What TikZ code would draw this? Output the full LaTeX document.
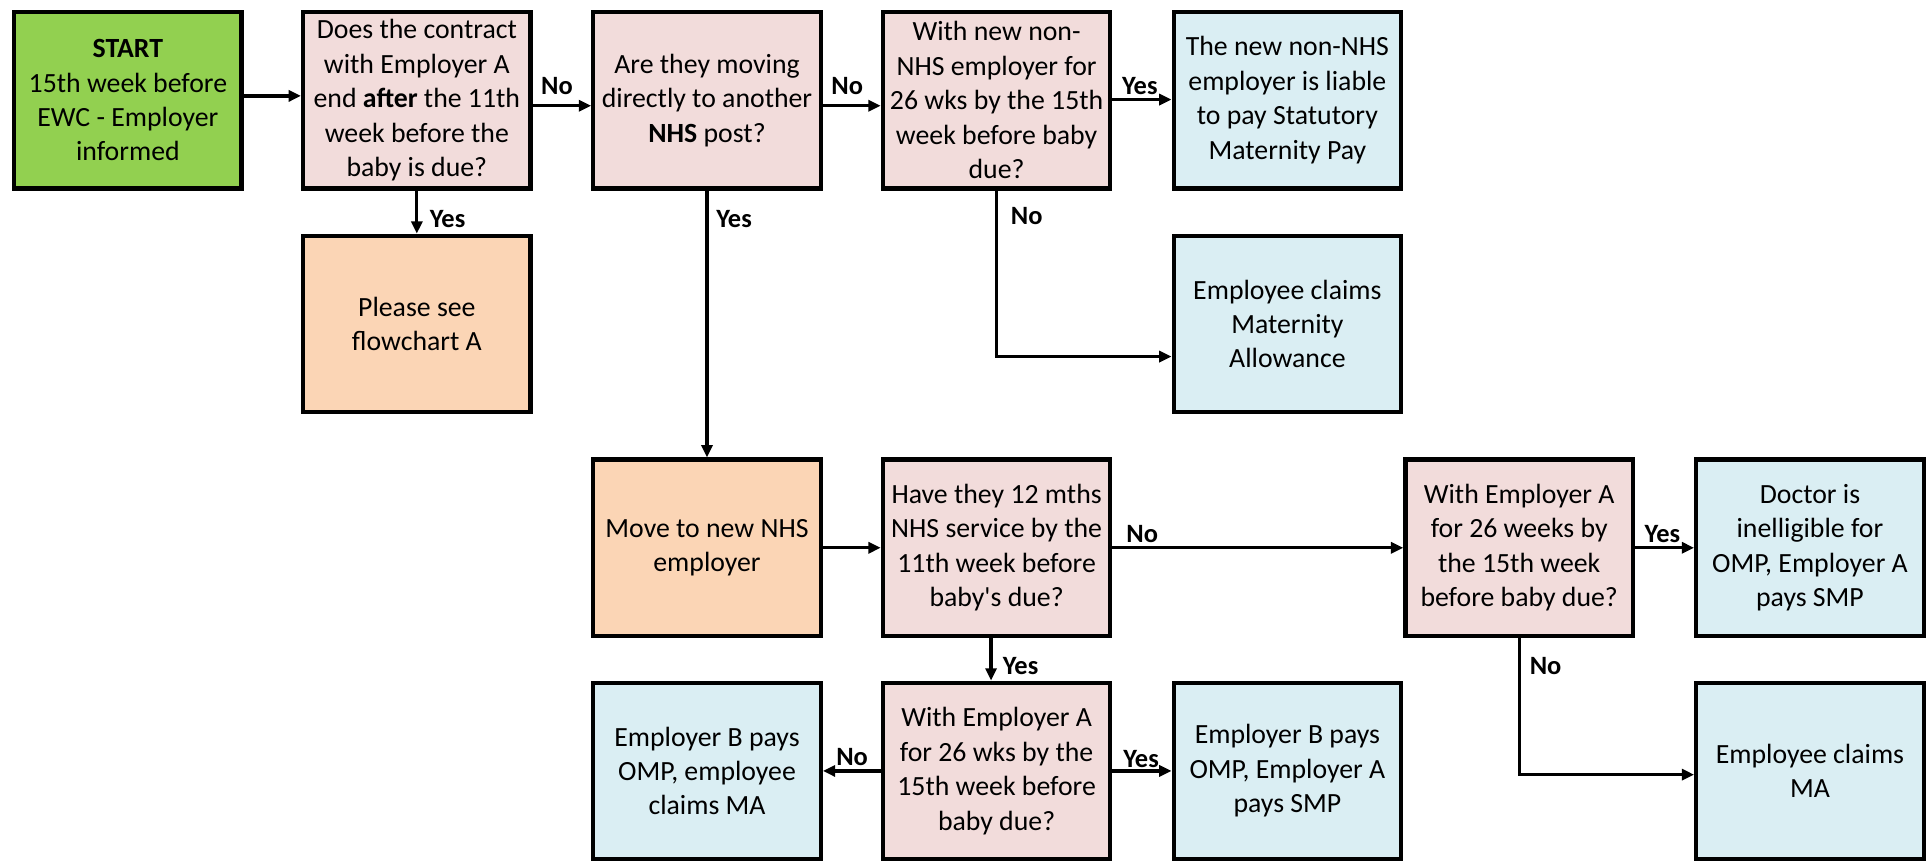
\documentclass[tikz,border=0pt]{standalone}
\usepackage{fontspec}
\setmainfont{Carlito}[Ligatures=TeXOff]
\usetikzlibrary{arrows.meta}
\definecolor{startgreen}{HTML}{92D050}
\definecolor{qpink}{HTML}{F2DCDB}
\definecolor{peach}{HTML}{FBD5B5}
\definecolor{lblue}{HTML}{DAEEF3}
\begin{document}
\begin{tikzpicture}[x=1pt,y=-1pt,
  box/.style={draw=black, line width=3.5pt, minimum width=185pt, minimum height=143.5pt,
    inner sep=0pt, align=center,
    font=\fontsize{22.6}{28}\selectfont},
  startbox/.style={box, fill=startgreen},
  qbox/.style={box, fill=qpink},
  pbox/.style={box, fill=peach},
  rbox/.style={box, fill=lblue},
  arr/.style={line width=2.6pt, -{Triangle[length=10pt,width=9pt]}},
  lbl/.style={font=\bfseries\fontsize{21.5}{23}\selectfont, inner sep=0pt}]
\useasboundingbox (0,0) rectangle (1568,700);
% row 1
\node[startbox] (start) at (104,81.5) {\textbf{START}\\15th week before\\EWC - Employer\\informed};
\node[qbox] (q1) at (339,81.5) {Does the contract\\with Employer A\\end \textbf{after} the 11th\\week before the\\baby is due?};
\node[qbox] (q2) at (575,81.5) {Are they moving\\directly to another\\\textbf{NHS} post?};
\node[qbox] (q3) at (810.5,81.5) {With new non-\\NHS employer for\\26 wks by the 15th\\week before baby\\due?};
\node[rbox] (r1) at (1047,81.5) {The new non-NHS\\employer is liable\\to pay Statutory\\Maternity Pay};
% row 2
\node[pbox] (fa) at (339,263.5) {Please see\\flowchart A};
\node[rbox] (r2) at (1047,263.5) {Employee claims\\Maternity\\Allowance};
% row 3
\node[pbox] (move) at (575,445.5) {Move to new NHS\\employer};
\node[qbox] (q4) at (810.5,445.5) {Have they 12 mths\\NHS service by the\\11th week before\\baby's due?};
\node[qbox] (q5) at (1235.5,445.5) {With Employer A\\for 26 weeks by\\the 15th week\\before baby due?};
\node[rbox] (doc) at (1472,445.5) {Doctor is\\inelligible for\\OMP, Employer A\\pays SMP};
% row 4
\node[rbox] (ebma) at (575,627) {Employer B pays\\OMP, employee\\claims MA};
\node[qbox] (q6) at (810.5,627) {With Employer A\\for 26 wks by the\\15th week before\\baby due?};
\node[rbox] (ebsmp) at (1047,627) {Employer B pays\\OMP, Employer A\\pays SMP};
\node[rbox] (ema) at (1472,627) {Employee claims\\MA};
% connectors
\draw[arr] (start.east |- 0,78) -- (q1.west |- 0,78);
\draw[arr] (q1.east |- 0,86) -- (q2.west |- 0,86);
\draw[arr] (q2.east |- 0,86) -- (q3.west |- 0,86);
\draw[arr] (q3.east |- 0,81) -- (r1.west |- 0,81);
\draw[arr] (q1.south) -- (fa.north);
\draw[arr] (q2.south) -- (move.north);
\draw[arr] (q3.south) |- (r2.west |- 0,290);
\draw[arr] (move.east) -- (q4.west);
\draw[arr] (q4.east) -- (q5.west);
\draw[arr] (q5.east) -- (doc.west);
\draw[arr] (q4.south -| 806,0) -- (q6.north -| 806,0);
\draw[arr] (q5.south) |- (ema.west |- 0,630);
\draw[arr] (q6.west) -- (ebma.east);
\draw[arr] (q6.east) -- (ebsmp.west);
% labels
\node[lbl] (l1) at (453,70) {No};
\node[lbl] (l2) at (689,70) {No};
\node[lbl] (l3) at (927,70) {Yes};
\node[lbl] (l4) at (364,178) {Yes};
\node[lbl] (l5) at (597,178) {Yes};
\node[lbl] (l6) at (835,176) {No};
\node[lbl] (l7) at (929,434) {No};
\node[lbl] (l8) at (1352,434) {Yes};
\node[lbl] (l9) at (830,542) {Yes};
\node[lbl] (l10) at (1257,542) {No};
\node[lbl] (l11) at (693,616) {No};
\node[lbl] (l12) at (928,617) {Yes};
\end{tikzpicture}
\end{document}
